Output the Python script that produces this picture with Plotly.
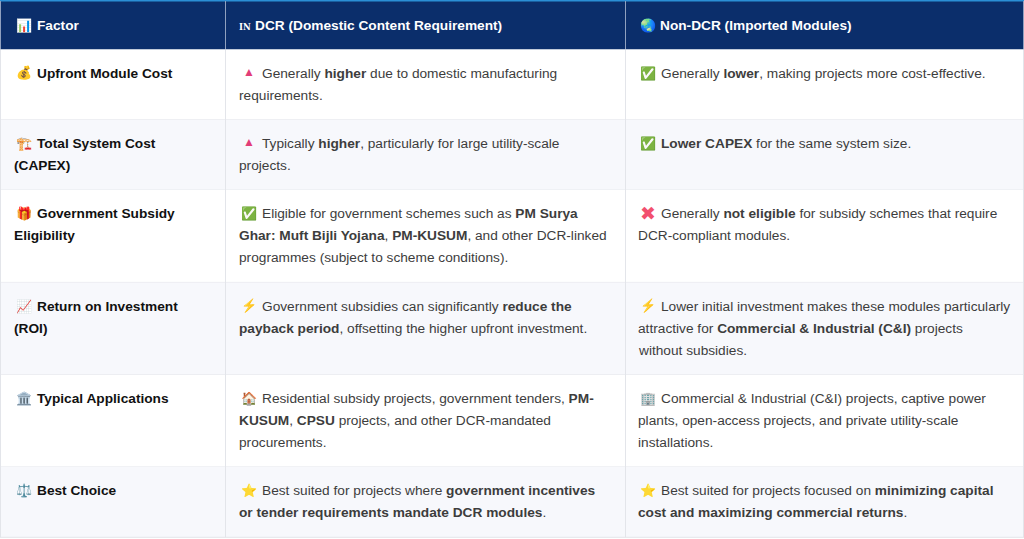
import plotly.graph_objects as go

headers = ["Factor", "DCR (Domestic Content Requirement)", "Non-DCR (Imported Modules)"]
header_icons = ["📊", "IN", "🌏"]

factor_icons = ["💰", "🏗️", "🎁", "📈", "🏛️", "⚖️"]
factor_lines = [
    ["Upfront Module Cost"],
    ["Total System Cost", "(CAPEX)"],
    ["Government Subsidy", "Eligibility"],
    ["Return on Investment", "(ROI)"],
    ["Typical Applications"],
    ["Best Choice"],
]

dcr_icons = ["▲", "▲", "✅", "⚡", "🏠", "⭐"]
dcr_lines = [
    ["Generally <b>higher</b> due to domestic manufacturing", "requirements."],
    ["Typically <b>higher</b>, particularly for large utility-scale", "projects."],
    [
        "Eligible for government schemes such as <b>PM Surya</b>",
        "<b>Ghar: Muft Bijli Yojana</b>, <b>PM-KUSUM</b>, and other DCR-linked",
        "programmes (subject to scheme conditions).",
    ],
    [
        "Government subsidies can significantly <b>reduce the</b>",
        "<b>payback period</b>, offsetting the higher upfront investment.",
    ],
    [
        "Residential subsidy projects, government tenders, <b>PM-</b>",
        "<b>KUSUM</b>, <b>CPSU</b> projects, and other DCR-mandated",
        "procurements.",
    ],
    [
        "Best suited for projects where <b>government incentives</b>",
        "<b>or tender requirements mandate DCR modules</b>.",
    ],
]

non_dcr_icons = ["✅", "✅", "✖", "⚡", "🏢", "⭐"]
non_dcr_lines = [
    ["Generally <b>lower</b>, making projects more cost-effective."],
    ["<b>Lower CAPEX</b> for the same system size."],
    [
        "Generally <b>not eligible</b> for subsidy schemes that require",
        "DCR-compliant modules.",
    ],
    [
        "Lower initial investment makes these modules particularly",
        "attractive for <b>Commercial &amp; Industrial (C&amp;I)</b> projects",
        "without subsidies.",
    ],
    [
        "Commercial &amp; Industrial (C&amp;I) projects, captive power",
        "plants, open-access projects, and private utility-scale",
        "installations.",
    ],
    [
        "Best suited for projects focused on <b>minimizing capital</b>",
        "<b>cost and maximizing commercial returns</b>.",
    ],
]

FONT = "Liberation Sans, Arial, sans-serif"
SIZE = 13.7
WIDTH, HEIGHT = 1024, 539
COL_EDGES = [0.5, 225.5, 625.5, 1023.5]
HEADER_BOTTOM = 49.5
LINE_H = 22
BORDER = "#e3e5ea"
BODY_TEXT = "#3d3d3d"


def add_text(fig, x, y, text, color=BODY_TEXT, size=SIZE, family=FONT):
    fig.add_annotation(
        x=x, y=y, text=text, xanchor="left", yanchor="middle", showarrow=False,
        align="left", xref="x", yref="y", borderpad=0,
        font=dict(family=family, size=size, color=color),
    )


def add_icon(fig, x, y, icon):
    # the pink marks are plain glyphs, the rest are colour emoji
    if icon == "▲":
        add_text(fig, x + 2, y - 1, icon, color="#e23d78", size=12)
    elif icon == "✖":
        add_text(fig, x, y, icon, color="#f2506e", size=19)
    else:
        add_text(fig, x, y, icon, size=13)


fig = go.Figure()

# header band
fig.add_shape(type="rect", x0=0, x1=WIDTH, y0=0, y1=HEADER_BOTTOM,
              fillcolor="#0b2e6b", line_width=0, layer="below")
fig.add_shape(type="rect", x0=0, x1=WIDTH, y0=0, y1=1.5,
              fillcolor="#2b8fd6", line_width=0, layer="below")

text_x = [36, 261, 660]
icon_x = [15, 240, 639]
wrap_x = [13, 238, 637]

header_x = [36, 254, 659]
for i, title in enumerate(headers):
    add_text(fig, header_x[i], 25.5, f"<b>{title}</b>", color="#ffffff")
add_text(fig, icon_x[0], 25.5, header_icons[0], size=13)
add_text(fig, icon_x[1] - 2, 26.5, f"<b>{header_icons[1]}</b>", color="#ffffff",
         size=8.5, family="DejaVu Serif")
add_text(fig, icon_x[2], 25.5, header_icons[2], size=13)

# body rows
top = HEADER_BOTTOM
for r in range(len(factor_lines)):
    n_lines = max(len(factor_lines[r]), len(dcr_lines[r]), len(non_dcr_lines[r]))
    height = 26.3 + LINE_H * n_lines
    fill = "#ffffff" if r % 2 == 0 else "#f7f8fc"
    fig.add_shape(type="rect", x0=0, x1=WIDTH, y0=top, y1=top + height,
                  fillcolor=fill, line_width=0, layer="below")
    fig.add_shape(type="line", x0=0, x1=WIDTH, y0=top + height, y1=top + height,
                  line=dict(color=BORDER, width=1), layer="below")

    first_y = top + 23.6
    cols = [
        (factor_icons[r], factor_lines[r], "#111111"),
        (dcr_icons[r], dcr_lines[r], BODY_TEXT),
        (non_dcr_icons[r], non_dcr_lines[r], BODY_TEXT),
    ]
    for c, (icon, lines, color) in enumerate(cols):
        add_icon(fig, icon_x[c], first_y, icon)
        for k, line in enumerate(lines):
            x = text_x[c] if k == 0 else wrap_x[c]
            label = f"<b>{line}</b>" if c == 0 else line
            add_text(fig, x, first_y + k * LINE_H, label, color=color)
    top += height

# column separators
for x in COL_EDGES:
    fig.add_shape(type="line", x0=x, x1=x, y0=1, y1=HEADER_BOTTOM,
                  line=dict(color="#8fa0bf", width=1), layer="below")
    fig.add_shape(type="line", x0=x, x1=x, y0=HEADER_BOTTOM, y1=top,
                  line=dict(color=BORDER, width=1), layer="below")

fig.update_layout(
    width=WIDTH, height=HEIGHT,
    margin=dict(l=0, r=0, t=0, b=0),
    paper_bgcolor="#ffffff", plot_bgcolor="#ffffff",
    xaxis=dict(range=[0, WIDTH], visible=False, fixedrange=True),
    yaxis=dict(range=[HEIGHT, 0], visible=False, fixedrange=True),
    showlegend=False,
)

fig.write_html("out.html", config=dict(displayModeBar=False),
               post_script="document.body.style.margin='0';")
